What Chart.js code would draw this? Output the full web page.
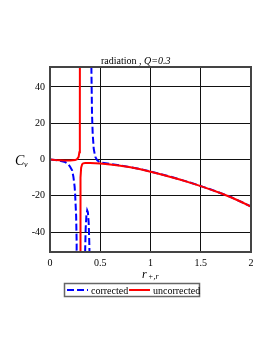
<!DOCTYPE html>
<html>
<head>
<meta charset="utf-8">
<script src="https://cdn.jsdelivr.net/npm/chart.js@4.4.9/dist/chart.umd.min.js"></script>
<style>
  html, body { margin: 0; padding: 0; background: #fff; }
  canvas { display: block; }
</style>
</head>
<body>
<canvas id="c" width="273" height="353"></canvas>
<script>
/* data (nulls break the line at the poles) */
const rUncorrected  = [0, 0.05, 0.1, 0.15, 0.2, 0.25, 0.27, 0.285, 0.292, 0.296, 0.298, 0.2995, 0.3,
                       0.3005, 0.302, 0.305, 0.31, 0.32, 0.33, 0.35, 0.4, 0.5, 0.6, 0.7, 0.8, 0.9,
                       1.0, 1.1, 1.2, 1.3, 1.4, 1.5, 1.6, 1.7, 1.8, 1.9, 2.0];
const cvUncorrected = [0, -0.3, -0.4, -0.5, -0.5, -0.3, 0.2, 1.5, 4, 10, 30, 200, null,
                       -200, -30, -10, -4.5, -2.6, -2.1, -1.9, -1.9, -2.2, -2.8, -3.5, -4.3, -5.4,
                       -6.7, -8.1, -9.6, -11.2, -12.9, -14.7, -16.6, -18.6, -20.8, -23.3, -26];

const rCorrected  = [0, 0.05, 0.1, 0.15, 0.18, 0.2, 0.22, 0.233, 0.245, 0.25, 0.26, 0.265, 0.27, 0.271,
                     0.345, 0.35, 0.355, 0.362, 0.37, 0.377, 0.385, 0.392, 0.398, 0.402, 0.405,
                     0.408, 0.412, 0.418, 0.425, 0.435, 0.45, 0.47, 0.5, 0.6, 0.7, 0.8, 0.9,
                     1.0, 1.2, 1.4, 1.6, 1.8, 2.0];
const cvCorrected = [0, -0.3, -0.7, -1.4, -2.4, -4, -6, -9.6, -15, -19, -31, -45, -200, null,
                     -200, -50, -38, -31, -28, -29, -35, -48, -80, -200, null,
                     200, 50, 25, 14, 6, 1.5, -0.5, -1.6, -2.5, -3.3, -4.2, -5.3,
                     -6.6, -9.5, -12.8, -16.5, -20.7, -25.9];

const xTicks = [0, 0.5, 1, 1.5, 2];
const yTicks = [-40, -20, 0, 20, 40];

const SERIF = '"Liberation Serif", "Times New Roman", serif';

const toPts = (xs, ys) => xs.map((x, i) => ({ x, y: ys[i] }));

/* title, axis names, frame and legend drawn on the canvas */
const decor = {
  id: 'decor',
  afterDraw(chart) {
    const { ctx, chartArea: a } = chart;
    ctx.save();
    // frame
    ctx.strokeStyle = '#444';
    ctx.lineWidth = 2;
    ctx.strokeRect(a.left, a.top, a.right - a.left, a.bottom - a.top);

    ctx.fillStyle = '#000';
    ctx.textBaseline = 'alphabetic';
    ctx.textAlign = 'left';
    // title
    ctx.font = '10px ' + SERIF;
    let x = 101;
    ctx.fillText('radiation , ', x, 64);
    x += ctx.measureText('radiation , ').width;
    ctx.font = 'italic 10px ' + SERIF;
    ctx.fillText('Q=0.3', x, 64);

    // y name C_v
    ctx.font = 'italic 14px ' + SERIF;
    ctx.fillText('C', 15, 165);
    ctx.font = 'italic 8px ' + SERIF;
    ctx.fillText('v', 24, 167);

    // x name r_{+,r}
    ctx.font = 'italic 12px ' + SERIF;
    ctx.fillText('r', 142, 278);
    ctx.font = 'italic 8px ' + SERIF;
    ctx.fillText('+,r', 148, 279);

    // legend
    ctx.strokeStyle = '#666';
    ctx.lineWidth = 1.5;
    ctx.strokeRect(64.5, 283.5, 135, 13);
    ctx.lineWidth = 2;
    ctx.strokeStyle = '#0000ff';
    ctx.setLineDash([7, 3]);
    ctx.beginPath(); ctx.moveTo(67, 290); ctx.lineTo(88, 290); ctx.stroke();
    ctx.setLineDash([]);
    ctx.strokeStyle = '#ff0000';
    ctx.beginPath(); ctx.moveTo(129, 290); ctx.lineTo(150, 290); ctx.stroke();
    ctx.font = '10px ' + SERIF;
    ctx.fillText('corrected', 91, 294);
    ctx.fillText('uncorrected', 153, 294);
    ctx.restore();
  }
};

new Chart(document.getElementById('c'), {
  type: 'line',
  data: {
    datasets: [
      {
        label: 'uncorrected',
        data: toPts(rUncorrected, cvUncorrected),
        borderColor: '#ff0000',
        borderWidth: 2,
        pointRadius: 0,
        tension: 0,
        spanGaps: false,
        clip: 0
      },
      {
        label: 'corrected',
        data: toPts(rCorrected, cvCorrected),
        borderColor: '#0000ff',
        borderWidth: 2,
        borderDash: [7, 3],
        pointRadius: 0,
        tension: 0,
        spanGaps: false,
        clip: 0
      }
    ]
  },
  options: {
    responsive: false,
    animation: false,
    devicePixelRatio: 1,
    layout: { padding: { left: 0, top: 67, right: 22, bottom: 0 } },
    plugins: {
      legend: { display: false },
      title: { display: false },
      tooltip: { enabled: false }
    },
    scales: {
      x: {
        type: 'linear',
        min: 0, max: 2,
        afterBuildTicks: s => { s.ticks = xTicks.map(v => ({ value: v })); },
        afterFit: s => { s.height = 101; },
        grid: { color: '#111', lineWidth: 1, drawTicks: false },
        border: { display: false },
        ticks: {
          color: '#000',
          padding: 5,
          font: { family: SERIF, size: 10 },
          maxRotation: 0,
          callback: v => String(v)
        }
      },
      y: {
        type: 'linear',
        min: -51, max: 51,
        afterBuildTicks: s => { s.ticks = yTicks.map(v => ({ value: v })); },
        afterFit: s => { s.width = 50; },
        grid: { color: '#111', lineWidth: 1, drawTicks: false },
        border: { display: false },
        ticks: {
          color: '#000',
          padding: 5,
          font: { family: SERIF, size: 10 },
          callback: v => String(v)
        }
      }
    }
  },
  plugins: [decor]
});
</script>
</body>
</html>
